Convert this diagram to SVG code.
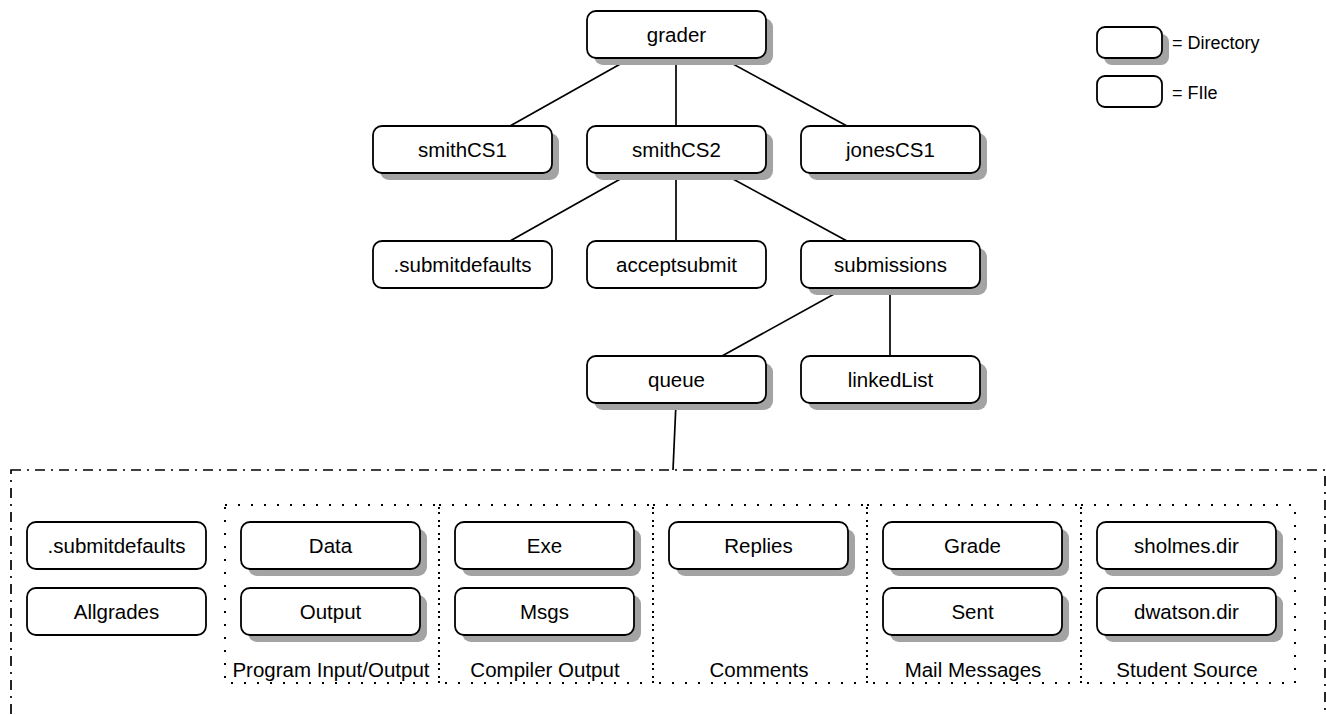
<svg xmlns="http://www.w3.org/2000/svg" width="1326" height="715" viewBox="0 0 1326 715">
<style>
.box{fill:#fff;stroke:#000;stroke-width:1.8}
.sh{fill:#a3a3a3;stroke:none}
.lbl{font-family:"Liberation Sans",Arial,sans-serif;font-size:20.5px;fill:#000;text-anchor:middle}
.leg{font-family:"Liberation Sans",Arial,sans-serif;font-size:18px;fill:#000}
.edge{stroke:#000;stroke-width:1.7;fill:none}
.grp{fill:none;stroke:#000;stroke-width:2;stroke-dasharray:2 11}
.outer{fill:none;stroke:#000;stroke-width:1.7;stroke-dasharray:10 6 2 6}
</style>
<defs>
<rect id="shadow" class="sh" width="179" height="47" rx="9"/>
<rect id="node" class="box" width="179" height="47" rx="9"/>
</defs>
<rect width="1326" height="715" fill="#fff"/>

<g id="connectors">
<line class="edge" x1="631" y1="58" x2="510" y2="126"/>
<line class="edge" x1="676" y1="58" x2="676" y2="126"/>
<line class="edge" x1="722" y1="58" x2="847" y2="126"/>
<line class="edge" x1="631" y1="173" x2="510" y2="241"/>
<line class="edge" x1="676" y1="173" x2="676" y2="241"/>
<line class="edge" x1="722" y1="173" x2="847" y2="241"/>
<line class="edge" x1="845" y1="288" x2="722" y2="356"/>
<line class="edge" x1="890" y1="288" x2="890" y2="356"/>
<line class="edge" x1="676" y1="403" x2="673" y2="470"/>
</g>

<g id="queue-contents">
<rect class="outer" x="11" y="470" width="1314" height="320"/>
</g>

<g id="group-program-io">
<rect class="grp" x="225" y="505" width="214" height="178"/>
<text class="lbl" x="331" y="677">Program Input/Output</text>
</g>
<g id="group-compiler-output">
<rect class="grp" x="439" y="505" width="214" height="178"/>
<text class="lbl" x="545" y="677">Compiler Output</text>
</g>
<g id="group-comments">
<rect class="grp" x="653" y="505" width="214" height="178"/>
<text class="lbl" x="759" y="677">Comments</text>
</g>
<g id="group-mail-messages">
<rect class="grp" x="867" y="505" width="214" height="178"/>
<text class="lbl" x="973" y="677">Mail Messages</text>
</g>
<g id="group-student-source">
<rect class="grp" x="1081" y="505" width="214" height="178"/>
<text class="lbl" x="1187" y="677">Student Source</text>
</g>

<g id="n-grader"><use href="#shadow" x="594" y="18"/><use href="#node" x="587" y="11"/><text class="lbl" x="676.5" y="42">grader</text></g>
<g id="n-smithCS1"><use href="#shadow" x="380" y="133"/><use href="#node" x="373" y="126"/><text class="lbl" x="462.5" y="157">smithCS1</text></g>
<g id="n-smithCS2"><use href="#shadow" x="594" y="133"/><use href="#node" x="587" y="126"/><text class="lbl" x="676.5" y="157">smithCS2</text></g>
<g id="n-jonesCS1"><use href="#shadow" x="808" y="133"/><use href="#node" x="801" y="126"/><text class="lbl" x="890.5" y="157">jonesCS1</text></g>
<g id="n-submitdefaults"><use href="#node" x="373" y="241"/><text class="lbl" x="462.5" y="272">.submitdefaults</text></g>
<g id="n-acceptsubmit"><use href="#node" x="587" y="241"/><text class="lbl" x="676.5" y="272">acceptsubmit</text></g>
<g id="n-submissions"><use href="#shadow" x="808" y="248"/><use href="#node" x="801" y="241"/><text class="lbl" x="890.5" y="272">submissions</text></g>
<g id="n-queue"><use href="#shadow" x="594" y="363"/><use href="#node" x="587" y="356"/><text class="lbl" x="676.5" y="387">queue</text></g>
<g id="n-linkedList"><use href="#shadow" x="808" y="363"/><use href="#node" x="801" y="356"/><text class="lbl" x="890.5" y="387">linkedList</text></g>

<g id="n-q-submitdefaults"><use href="#node" x="27" y="522"/><text class="lbl" x="116.5" y="553">.submitdefaults</text></g>
<g id="n-allgrades"><use href="#node" x="27" y="588"/><text class="lbl" x="116.5" y="619">Allgrades</text></g>
<g id="n-data"><use href="#shadow" x="248" y="529"/><use href="#node" x="241" y="522"/><text class="lbl" x="330.5" y="553">Data</text></g>
<g id="n-output"><use href="#shadow" x="248" y="595"/><use href="#node" x="241" y="588"/><text class="lbl" x="330.5" y="619">Output</text></g>
<g id="n-exe"><use href="#shadow" x="462" y="529"/><use href="#node" x="455" y="522"/><text class="lbl" x="544.5" y="553">Exe</text></g>
<g id="n-msgs"><use href="#shadow" x="462" y="595"/><use href="#node" x="455" y="588"/><text class="lbl" x="544.5" y="619">Msgs</text></g>
<g id="n-replies"><use href="#shadow" x="676" y="529"/><use href="#node" x="669" y="522"/><text class="lbl" x="758.5" y="553">Replies</text></g>
<g id="n-grade"><use href="#shadow" x="890" y="529"/><use href="#node" x="883" y="522"/><text class="lbl" x="972.5" y="553">Grade</text></g>
<g id="n-sent"><use href="#shadow" x="890" y="595"/><use href="#node" x="883" y="588"/><text class="lbl" x="972.5" y="619">Sent</text></g>
<g id="n-sholmes"><use href="#shadow" x="1104" y="529"/><use href="#node" x="1097" y="522"/><text class="lbl" x="1186.5" y="553">sholmes.dir</text></g>
<g id="n-dwatson"><use href="#shadow" x="1104" y="595"/><use href="#node" x="1097" y="588"/><text class="lbl" x="1186.5" y="619">dwatson.dir</text></g>

<g id="legend-directory">
<rect class="sh" x="1104" y="34" width="65" height="31" rx="8"/>
<rect class="box" x="1097" y="27" width="65" height="31" rx="8"/>
<text class="leg" x="1172" y="49">= Directory</text>
</g>
<g id="legend-file">
<rect class="box" x="1097" y="76" width="65" height="31" rx="8"/>
<text class="leg" x="1172" y="99">= FIle</text>
</g>
</svg>
